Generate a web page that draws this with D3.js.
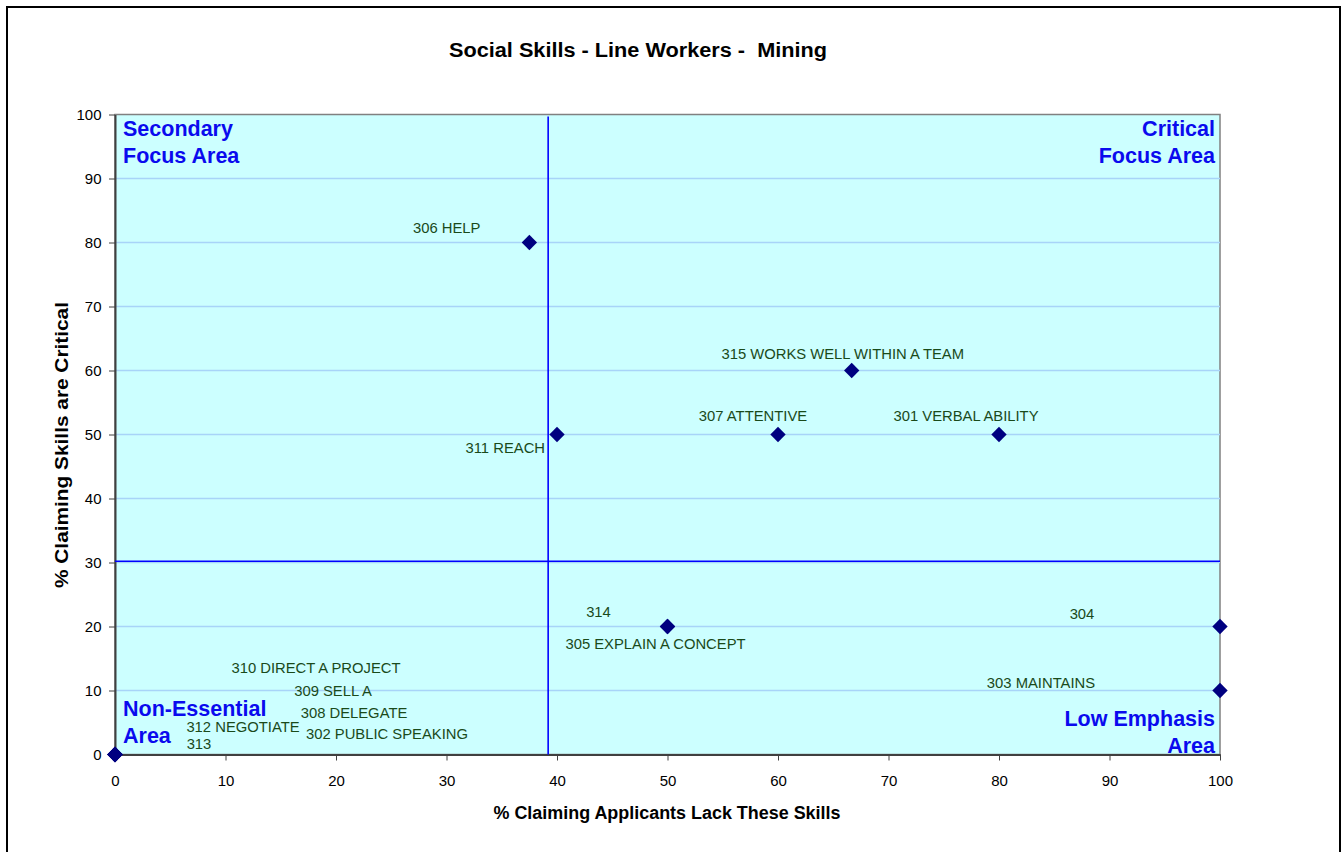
<!DOCTYPE html>
<html><head><meta charset="utf-8">
<script src="https://cdn.jsdelivr.net/npm/d3@7"></script>
<style>body{margin:0;background:#fff}</style>
</head><body><svg id="c" width="1343" height="852" font-family="Liberation Sans, Arial, sans-serif"></svg>
<script>
const skillNames = ["306 HELP","311 REACH","307 ATTENTIVE","315 WORKS WELL WITHIN A TEAM","301 VERBAL ABILITY","314","305 EXPLAIN A CONCEPT","304","303 MAINTAINS","310 DIRECT A PROJECT","309 SELL A","308 DELEGATE","312 NEGOTIATE","302 PUBLIC SPEAKING","313"];
const lackPct     = [37.5,40,60,66.67,80,50,50,100,100,0,0,0,0,0,0];
const criticalPct = [80,50,50,60,50,20,20,20,10,0,0,0,0,0,0];
const xTicks = [0,10,20,30,40,50,60,70,80,90,100];
const yTicks = [0,10,20,30,40,50,60,70,80,90,100];
const crossX = 39.2, crossY = 30.2;
const quadrantLabels = [["Secondary","Focus Area"],["Critical","Focus Area"],["Non-Essential","Area"],["Low Emphasis","Area"]];
// label layout (pixel offsets from the marker, text-anchor)
const labelLayout = [[-49,-15,"end"],[-12,13,"end"],[-25,-19,"middle"],[-9,-17,"middle"],[-33,-19,"middle"],[-69,-15,"middle"],[-12,17,"middle"],[-138,-13,"middle"],[-179,-8,"middle"],[201,-87,"middle"],[218,-64,"middle"],[239,-42,"middle"],[128,-28,"middle"],[272,-21,"middle"],[84,-11,"middle"]];

const svg = d3.select("#c");
svg.append("rect").attr("x",7).attr("y",7).attr("width",1333).attr("height",860).attr("fill","#fff").attr("stroke","#000").attr("stroke-width",2);

const L=115,R=1220,T=114.5,B=754.5;
const x = d3.scaleLinear().domain([0,100]).range([L,R]);
const y = d3.scaleLinear().domain([0,100]).range([B,T]);

svg.append("rect").attr("x",L).attr("y",T).attr("width",R-L).attr("height",B-T).attr("fill","#ccffff").attr("stroke","#808080").attr("stroke-width",1.5);

svg.append("g").selectAll("line").data(yTicks.filter(d=>d>0&&d<100)).join("line")
  .attr("x1",L).attr("x2",R).attr("y1",d=>y(d)).attr("y2",d=>y(d)).attr("stroke","#a8d4f8").attr("stroke-width",1.3);

// axes
const xa = svg.append("g").attr("transform",`translate(0,${B})`).call(d3.axisBottom(x).tickValues(xTicks).tickSize(6).tickSizeOuter(0));
const ya = svg.append("g").attr("transform",`translate(${L},0)`).call(d3.axisLeft(y).tickValues(yTicks).tickSize(6).tickSizeOuter(0));
[xa,ya].forEach(a=>{a.select(".domain").attr("stroke","#404040").attr("stroke-width",2);
  a.selectAll(".tick line").attr("stroke","#404040");
  a.selectAll("text").attr("font-family","Liberation Sans, Arial, sans-serif").attr("font-size",15).attr("fill","#000");});
xa.selectAll("text").attr("dy","1.5em");
ya.selectAll("text").attr("dx","-0.3em");

// quadrant lines
svg.append("line").attr("x1",x(crossX)).attr("x2",x(crossX)).attr("y1",T+2).attr("y2",B).attr("stroke","#0000ff").attr("stroke-width",1.6);
svg.append("line").attr("x1",L).attr("x2",R).attr("y1",y(crossY)).attr("y2",y(crossY)).attr("stroke","#0000ff").attr("stroke-width",1.6);

// quadrant labels
const qpos = [[L+8,T+21,"start"],[R-5,T+21,"end"],[L+8,y(0)-39,"start"],[R-5,y(0)-29,"end"]];
quadrantLabels.forEach((lines,i)=>{
  const t = svg.append("text").attr("x",qpos[i][0]).attr("y",qpos[i][1]).attr("text-anchor",qpos[i][2])
    .attr("font-size",21.5).attr("font-weight","bold").attr("fill","#0a0aee");
  lines.forEach((s,j)=>t.append("tspan").attr("x",qpos[i][0]).attr("dy",j?27:0).text(s));
});

// point labels
const pts = skillNames.map((n,i)=>({n,x:lackPct[i],y:criticalPct[i],lay:labelLayout[i]}));
svg.append("g").selectAll("text").data(pts).join("text")
  .attr("x",d=>x(d.x)+d.lay[0]).attr("y",d=>y(d.y)+d.lay[1]).attr("dy","0.35em")
  .attr("text-anchor",d=>d.lay[2]).attr("font-size",14.8).attr("fill","#1a4a1a").text(d=>d.n);

// markers
svg.append("g").selectAll("path").data(pts).join("path")
  .attr("d",d3.symbol(d3.symbolDiamond2,150)())
  .attr("transform",d=>`translate(${x(d.x)},${y(d.y)})`).attr("fill","#000080");

// titles
svg.append("text").attr("x",638).attr("y",57).attr("text-anchor","middle").attr("font-size",19.5).attr("font-weight","bold")
  .attr("xml:space","preserve").style("white-space","pre").attr("textLength",378).attr("lengthAdjust","spacingAndGlyphs")
  .text("Social Skills - Line Workers -  Mining");
svg.append("text").attr("x",667).attr("y",819).attr("text-anchor","middle").attr("font-size",18).attr("font-weight","bold")
  .attr("textLength",347).attr("lengthAdjust","spacingAndGlyphs").text("% Claiming Applicants Lack These Skills");
svg.append("text").attr("transform",`translate(68,445) rotate(-90)`).attr("text-anchor","middle").attr("font-size",19).attr("font-weight","bold")
  .attr("textLength",286).attr("lengthAdjust","spacingAndGlyphs").text("% Claiming Skills are Critical");
</script></body></html>
